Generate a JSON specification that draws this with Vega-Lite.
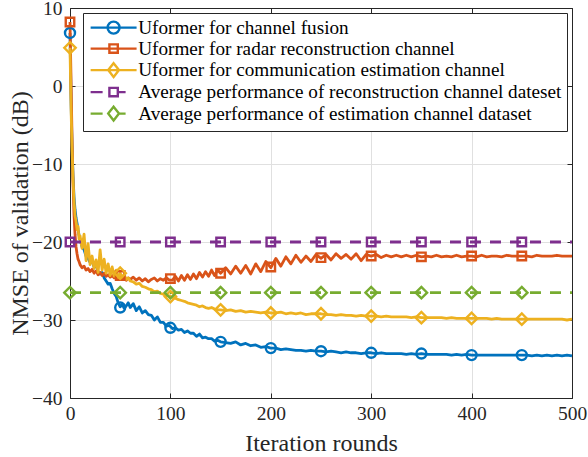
{
  "$schema": "https://vega.github.io/schema/vega-lite/v6.json",
  "width": 502,
  "height": 390,
  "autosize": {"type": "none"},
  "padding": {"left": 70, "top": 8, "right": 16, "bottom": 59},
  "background": "white",
  "config": {"view": {"stroke": null}, "font": "Liberation Serif"},
  "datasets": {
    "curves": [
      {"x":0,"a":6.8,"b":8.2,"c":4.9},
      {"x":1,"a":-1.5,"b":1.0,"c":-2.5},
      {"x":2,"a":-7.5,"b":-6.5,"c":-8.0},
      {"x":3,"a":-11.5,"b":-12.5,"c":-12.0},
      {"x":4,"a":-14.2,"b":-16.5,"c":-14.8},
      {"x":5,"a":-15.8,"b":-19.0,"c":-16.6},
      {"x":6,"a":-16.9,"b":-20.6,"c":-17.3},
      {"x":7,"a":-17.6,"b":-21.5,"c":-18.4},
      {"x":8,"a":-18.4,"b":-22.2,"c":-18.0},
      {"x":9,"a":-19.1,"b":-22.5,"c":-19.6},
      {"x":10,"a":-19.7,"b":-22.9,"c":-19.2},
      {"x":12,"a":-20.6,"b":-23.3,"c":-20.8},
      {"x":14,"a":-21.0,"b":-23.1,"c":-19.0},
      {"x":16,"a":-21.8,"b":-23.6,"c":-22.4},
      {"x":18,"a":-22.1,"b":-23.4,"c":-20.2},
      {"x":20,"a":-22.6,"b":-23.8,"c":-22.9},
      {"x":22,"a":-22.4,"b":-23.5,"c":-21.8},
      {"x":24,"a":-23.2,"b":-24.0,"c":-23.4},
      {"x":26,"a":-23.0,"b":-23.7,"c":-22.3},
      {"x":28,"a":-23.8,"b":-24.2,"c":-23.9},
      {"x":30,"a":-24.1,"b":-23.9,"c":-21.0},
      {"x":32,"a":-23.9,"b":-24.3,"c":-23.6},
      {"x":34,"a":-24.6,"b":-24.0,"c":-22.2},
      {"x":36,"a":-25.0,"b":-24.4,"c":-24.0},
      {"x":38,"a":-25.4,"b":-24.2,"c":-22.8},
      {"x":40,"a":-25.3,"b":-24.5,"c":-24.3},
      {"x":42,"a":-26.0,"b":-24.3,"c":-23.2},
      {"x":44,"a":-26.6,"b":-24.6,"c":-24.4},
      {"x":46,"a":-27.0,"b":-24.4,"c":-23.6},
      {"x":48,"a":-27.8,"b":-24.7,"c":-24.6},
      {"x":50,"a":-28.3,"b":-24.4,"c":-24.0},
      {"x":52,"a":-28.0,"b":-24.8,"c":-24.5},
      {"x":54,"a":-28.5,"b":-24.5,"c":-24.2},
      {"x":56,"a":-28.2,"b":-24.9,"c":-24.8},
      {"x":58,"a":-27.8,"b":-24.6,"c":-24.6},
      {"x":60,"a":-28.4,"b":-24.8,"c":-25.0},
      {"x":63,"a":-27.9,"b":-24.5,"c":-25.1},
      {"x":66,"a":-28.8,"b":-24.9,"c":-25.4},
      {"x":69,"a":-28.3,"b":-24.6,"c":-25.3},
      {"x":72,"a":-29.1,"b":-25.0,"c":-25.7},
      {"x":75,"a":-28.8,"b":-24.7,"c":-25.8},
      {"x":78,"a":-29.3,"b":-25.1,"c":-26.0},
      {"x":81,"a":-29.4,"b":-24.8,"c":-26.1},
      {"x":84,"a":-30.0,"b":-24.6,"c":-26.4},
      {"x":87,"a":-29.6,"b":-25.0,"c":-26.3},
      {"x":90,"a":-30.3,"b":-24.7,"c":-26.6},
      {"x":93,"a":-30.3,"b":-24.9,"c":-26.7},
      {"x":96,"a":-30.8,"b":-24.6,"c":-26.9},
      {"x":99,"a":-30.7,"b":-24.9,"c":-26.9},
      {"x":102,"a":-31.1,"b":-24.9,"c":-27.1},
      {"x":105,"a":-31.0,"b":-24.4,"c":-27.2},
      {"x":108,"a":-31.3,"b":-25.0,"c":-27.4},
      {"x":111,"a":-31.2,"b":-24.3,"c":-27.5},
      {"x":114,"a":-31.6,"b":-24.9,"c":-27.6},
      {"x":117,"a":-31.4,"b":-24.2,"c":-27.8},
      {"x":120,"a":-31.7,"b":-24.8,"c":-27.9},
      {"x":123,"a":-31.7,"b":-24.1,"c":-28.0},
      {"x":126,"a":-32.1,"b":-24.7,"c":-28.1},
      {"x":129,"a":-31.8,"b":-23.9,"c":-28.3},
      {"x":132,"a":-32.3,"b":-24.5,"c":-28.2},
      {"x":135,"a":-32.2,"b":-23.8,"c":-28.4},
      {"x":138,"a":-32.4,"b":-24.4,"c":-28.5},
      {"x":141,"a":-32.4,"b":-23.6,"c":-28.4},
      {"x":144,"a":-32.7,"b":-24.3,"c":-28.6},
      {"x":147,"a":-32.6,"b":-23.6,"c":-28.7},
      {"x":150,"a":-32.8,"b":-24.0,"c":-28.7},
      {"x":155,"a":-32.9,"b":-23.3,"c":-28.8},
      {"x":160,"a":-33.0,"b":-24.1,"c":-28.7},
      {"x":165,"a":-32.8,"b":-23.1,"c":-28.9},
      {"x":170,"a":-33.2,"b":-24.0,"c":-28.8},
      {"x":175,"a":-33.0,"b":-23.0,"c":-29.0},
      {"x":180,"a":-33.3,"b":-24.1,"c":-28.9},
      {"x":185,"a":-33.2,"b":-22.8,"c":-29.0},
      {"x":190,"a":-33.5,"b":-23.8,"c":-29.1},
      {"x":195,"a":-33.4,"b":-22.5,"c":-29.0},
      {"x":200,"a":-33.6,"b":-23.3,"c":-29.1},
      {"x":205,"a":-33.6,"b":-22.1,"c":-29.1},
      {"x":210,"a":-33.8,"b":-23.1,"c":-29.0},
      {"x":215,"a":-33.7,"b":-21.9,"c":-29.2},
      {"x":220,"a":-33.8,"b":-22.8,"c":-29.1},
      {"x":225,"a":-33.9,"b":-21.7,"c":-29.2},
      {"x":230,"a":-33.9,"b":-22.6,"c":-29.1},
      {"x":235,"a":-34.0,"b":-21.8,"c":-29.3},
      {"x":240,"a":-33.9,"b":-22.5,"c":-29.2},
      {"x":245,"a":-34.0,"b":-21.6,"c":-29.2},
      {"x":250,"a":-34.0,"b":-22.1,"c":-29.2},
      {"x":255,"a":-34.1,"b":-21.6,"c":-29.3},
      {"x":260,"a":-34.0,"b":-22.3,"c":-29.3},
      {"x":265,"a":-34.1,"b":-21.5,"c":-29.4},
      {"x":270,"a":-34.2,"b":-22.1,"c":-29.3},
      {"x":275,"a":-34.1,"b":-21.6,"c":-29.4},
      {"x":280,"a":-34.2,"b":-22.2,"c":-29.4},
      {"x":285,"a":-34.2,"b":-21.5,"c":-29.5},
      {"x":290,"a":-34.3,"b":-22.4,"c":-29.4},
      {"x":295,"a":-34.2,"b":-21.6,"c":-29.5},
      {"x":300,"a":-34.2,"b":-21.8,"c":-29.5},
      {"x":305,"a":-34.3,"b":-21.6,"c":-29.5},
      {"x":310,"a":-34.2,"b":-22.0,"c":-29.6},
      {"x":315,"a":-34.3,"b":-21.7,"c":-29.5},
      {"x":320,"a":-34.3,"b":-21.9,"c":-29.6},
      {"x":325,"a":-34.3,"b":-21.7,"c":-29.6},
      {"x":330,"a":-34.3,"b":-21.9,"c":-29.6},
      {"x":335,"a":-34.4,"b":-21.7,"c":-29.6},
      {"x":340,"a":-34.3,"b":-21.9,"c":-29.7},
      {"x":345,"a":-34.4,"b":-21.7,"c":-29.6},
      {"x":350,"a":-34.3,"b":-21.9,"c":-29.7},
      {"x":355,"a":-34.4,"b":-21.8,"c":-29.7},
      {"x":360,"a":-34.4,"b":-21.9,"c":-29.7},
      {"x":365,"a":-34.4,"b":-21.7,"c":-29.7},
      {"x":370,"a":-34.4,"b":-21.9,"c":-29.7},
      {"x":375,"a":-34.4,"b":-21.8,"c":-29.8},
      {"x":380,"a":-34.5,"b":-21.9,"c":-29.7},
      {"x":385,"a":-34.4,"b":-21.7,"c":-29.8},
      {"x":390,"a":-34.5,"b":-21.9,"c":-29.8},
      {"x":395,"a":-34.4,"b":-21.8,"c":-29.8},
      {"x":400,"a":-34.5,"b":-21.8,"c":-29.8},
      {"x":405,"a":-34.5,"b":-21.9,"c":-29.8},
      {"x":410,"a":-34.5,"b":-21.7,"c":-29.8},
      {"x":415,"a":-34.5,"b":-21.9,"c":-29.8},
      {"x":420,"a":-34.5,"b":-21.8,"c":-29.9},
      {"x":425,"a":-34.5,"b":-21.8,"c":-29.8},
      {"x":430,"a":-34.5,"b":-21.9,"c":-29.9},
      {"x":435,"a":-34.5,"b":-21.7,"c":-29.9},
      {"x":440,"a":-34.5,"b":-21.8,"c":-29.9},
      {"x":445,"a":-34.5,"b":-21.8,"c":-29.9},
      {"x":450,"a":-34.5,"b":-21.8,"c":-29.9},
      {"x":455,"a":-34.5,"b":-21.8,"c":-29.9},
      {"x":460,"a":-34.6,"b":-21.9,"c":-29.9},
      {"x":465,"a":-34.5,"b":-21.7,"c":-29.9},
      {"x":470,"a":-34.6,"b":-21.8,"c":-29.9},
      {"x":475,"a":-34.5,"b":-21.8,"c":-29.9},
      {"x":480,"a":-34.6,"b":-21.8,"c":-29.9},
      {"x":485,"a":-34.5,"b":-21.7,"c":-29.9},
      {"x":490,"a":-34.6,"b":-21.8,"c":-29.9},
      {"x":495,"a":-34.5,"b":-21.8,"c":-30.0},
      {"x":500,"a":-34.6,"b":-21.8,"c":-29.9}
    ],
    "avg": [
      {"x":0,"d":-20,"e":-26.5},
      {"x":500,"d":-20,"e":-26.5}
    ],
    "markers": [
      {"x":0,"a":6.8,"b":8.2,"c":4.9,"d":-20,"e":-26.5},
      {"x":50,"a":-28.4,"b":-24.3,"c":-24.0,"d":-20,"e":-26.5},
      {"x":100,"a":-31.0,"b":-24.7,"c":-27.0,"d":-20,"e":-26.5},
      {"x":150,"a":-32.8,"b":-24.0,"c":-28.7,"d":-20,"e":-26.5},
      {"x":200,"a":-33.6,"b":-23.2,"c":-29.1,"d":-20,"e":-26.5},
      {"x":250,"a":-34.0,"b":-22.0,"c":-29.2,"d":-20,"e":-26.5},
      {"x":300,"a":-34.2,"b":-21.8,"c":-29.5,"d":-20,"e":-26.5},
      {"x":350,"a":-34.3,"b":-21.9,"c":-29.7,"d":-20,"e":-26.5},
      {"x":400,"a":-34.5,"b":-21.8,"c":-29.8,"d":-20,"e":-26.5},
      {"x":450,"a":-34.5,"b":-21.8,"c":-29.9,"d":-20,"e":-26.5}
    ]
  },
  "layer": [
    {
      "data": {"name": "curves"},
      "transform": [{"fold": ["a", "b", "c"], "as": ["s", "y"]}],
      "mark": {"type": "line", "strokeWidth": 2.8, "strokeJoin": "round"},
      "encoding": {
        "x": {
          "field": "x", "type": "quantitative",
          "scale": {"domain": [0, 500], "nice": false},
          "axis": {
            "values": [0, 100, 200, 300, 400, 500],
            "grid": true, "gridColor": "#e0e0e0",
            "tickSize": -5, "tickColor": "#262626", "domainColor": "#262626",
            "labelPadding": 11, "labelFontSize": 19.5, "labelFont": "Liberation Serif",
            "labelColor": "#262626", "labelFlush": false,
            "title": "Iteration rounds", "titleFontSize": 24, "titleFont": "Liberation Serif",
            "titleFontWeight": "normal", "titleColor": "#262626",
            "titleY": 52, "titleBaseline": "alphabetic"
          }
        },
        "y": {
          "field": "y", "type": "quantitative",
          "scale": {"domain": [-40, 10], "nice": false},
          "axis": {
            "values": [-40, -30, -20, -10, 0, 10],
            "grid": true, "gridColor": "#e0e0e0",
            "tickSize": -5, "tickColor": "#262626", "domainColor": "#262626",
            "labelPadding": 13, "labelFontSize": 19.5, "labelFont": "Liberation Serif",
            "labelColor": "#262626",
            "title": "NMSE of validation (dB)", "titleFontSize": 24, "titleFont": "Liberation Serif",
            "titleFontWeight": "normal", "titleColor": "#262626",
            "titleX": -43, "titleY": 205, "titleBaseline": "alphabetic", "titleAngle": -90
          }
        },
        "color": {
          "field": "s", "type": "nominal",
          "scale": {"domain": ["a", "b", "c", "d", "e"], "range": ["#0072BD", "#D95319", "#EDB120", "#7E2F8E", "#77AC30"]},
          "legend": {
            "title": null, "orient": "none", "legendX": 13, "legendY": 5,
            "padding": 5, "fillColor": "white", "strokeColor": "#262626", "cornerRadius": 0,
            "symbolSize": 144, "symbolStrokeWidth": 2.4, "symbolOffset": 16, "labelOffset": 15,
            "symbolType": {"expr": "datum.value === 'a' ? 'M-3.83,0H3.83M1,0A1,1,0,1,1,-1,0A1,1,0,1,1,1,0' : datum.value === 'b' ? 'M-3.83,0H3.83M-0.7,-0.7H0.7V0.7H-0.7Z' : datum.value === 'c' ? 'M-3.83,0H3.83M0,-1.15L0.9,0L0,1.15L-0.9,0Z' : datum.value === 'd' ? 'M-3.83,0H-1.83M-0.7,-0.7H0.7V0.7H-0.7ZM0.7,0H2' : 'M-3.83,0H-1.83M0,-1.15L0.9,0L0,1.15L-0.9,0ZM0.9,0H2'"},
            "labelFont": "Liberation Serif", "labelFontSize": 19.2, "labelColor": "#000000",
            "labelLimit": 1000, "rowPadding": -1.5,
            "labelExpr": "datum.label == 'a' ? 'Uformer for channel fusion' : datum.label == 'b' ? 'Uformer for radar reconstruction channel' : datum.label == 'c' ? 'Uformer for communication estimation channel' : datum.label == 'd' ? 'Average performance of reconstruction channel dateset' : 'Average performance of estimation channel dataset'"
          }
        }
      }
    },
    {
      "data": {"name": "avg"},
      "transform": [{"fold": ["d", "e"], "as": ["s", "y"]}],
      "mark": {"type": "line", "strokeWidth": 2.8, "strokeDash": [11, 9]},
      "encoding": {
        "x": {
          "field": "x", "type": "quantitative",
          "axis": {"orient": "top", "labels": false, "title": null, "grid": false, "values": [0, 100, 200, 300, 400, 500], "tickSize": -5, "tickColor": "#262626", "domainColor": "#262626"}
        },
        "y": {
          "field": "y", "type": "quantitative",
          "axis": {"orient": "right", "labels": false, "title": null, "grid": false, "values": [-40, -30, -20, -10, 0, 10], "tickSize": -5, "tickColor": "#262626", "domainColor": "#262626"}
        },
        "color": {"field": "s", "type": "nominal"}
      }
    },
    {
      "data": {"name": "markers"},
      "transform": [{"fold": ["a"], "as": ["s", "y"]}],
      "mark": {"type": "point", "shape": "circle", "size": 100, "filled": false, "strokeWidth": 2.4, "opacity": 1},
      "encoding": {
        "x": {"field": "x", "type": "quantitative", "axis": null},
        "y": {"field": "y", "type": "quantitative", "axis": null},
        "color": {"field": "s", "type": "nominal"}
      }
    },
    {
      "data": {"name": "markers"},
      "transform": [{"fold": ["b", "d"], "as": ["s", "y"]}],
      "mark": {"type": "point", "shape": "square", "size": 72, "filled": false, "strokeWidth": 2.4, "opacity": 1},
      "encoding": {
        "x": {"field": "x", "type": "quantitative", "axis": null},
        "y": {"field": "y", "type": "quantitative", "axis": null},
        "color": {"field": "s", "type": "nominal"}
      }
    },
    {
      "data": {"name": "markers"},
      "transform": [{"fold": ["c", "e"], "as": ["s", "y"]}],
      "mark": {"type": "point", "shape": "diamond", "size": 130, "filled": false, "strokeWidth": 2.4, "opacity": 1},
      "encoding": {
        "x": {"field": "x", "type": "quantitative", "axis": null},
        "y": {"field": "y", "type": "quantitative", "axis": null},
        "color": {"field": "s", "type": "nominal"}
      }
    }
  ],
  "resolve": {"axis": {"x": "independent", "y": "independent"}}
}
